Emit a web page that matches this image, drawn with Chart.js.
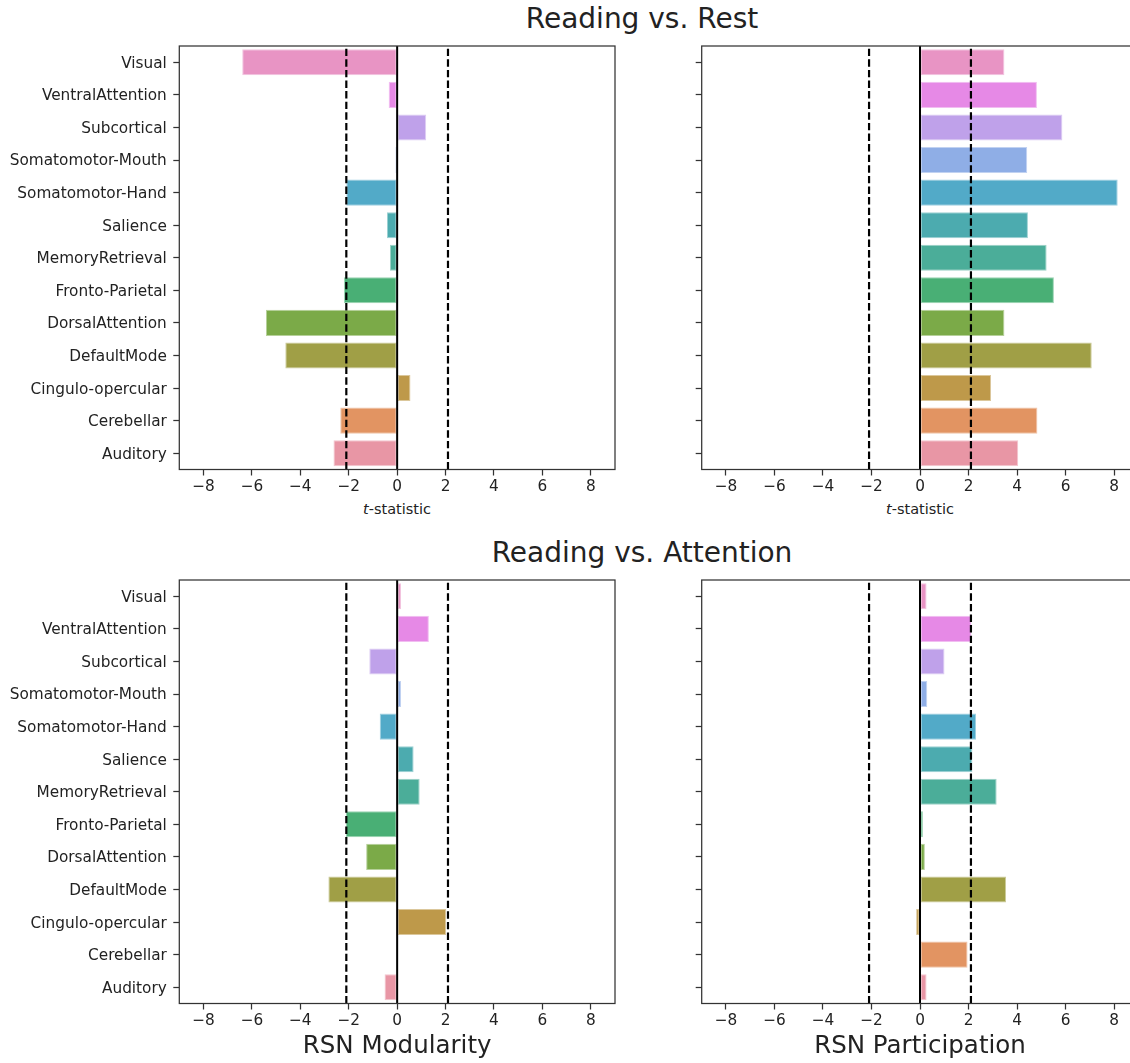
<!DOCTYPE html>
<html>
<head>
<meta charset="utf-8">
<script src="https://cdn.jsdelivr.net/npm/chart.js@4.4.1/dist/chart.umd.min.js"></script>
<style>
  html, body { margin: 0; padding: 0; width: 1130px; height: 1063px; overflow: hidden; background: #fff; }
  body { position: relative; font-family: "DejaVu Sans", sans-serif; color: #222; }
  canvas { position: absolute; }
  .sup { position: absolute; font-size: 28px; line-height: 28px; white-space: nowrap; transform: translateX(-50%); }
  .xl { position: absolute; font-size: 14.5px; line-height: 14.5px; white-space: nowrap; transform: translateX(-50%); }
</style>
</head>
<body>
<div class="sup" style="left:642px; top:4.7px;">Reading vs. Rest</div>
<div class="sup" style="left:642px; top:538.7px;">Reading vs. Attention</div>
<div class="xl" style="left:397px; top:502.2px;"><i>t</i>-statistic</div>
<div class="xl" style="left:920px; top:502.2px;"><i>t</i>-statistic</div>

<canvas id="restMod"></canvas>
<canvas id="restPart"></canvas>
<canvas id="attnMod"></canvas>
<canvas id="attnPart"></canvas>

<script>
// Resting-state networks, listed top to bottom
const categories = [
  'Visual', 'VentralAttention', 'Subcortical', 'Somatomotor-Mouth',
  'Somatomotor-Hand', 'Salience', 'MemoryRetrieval', 'Fronto-Parietal',
  'DorsalAttention', 'DefaultMode', 'Cingulo-opercular', 'Cerebellar', 'Auditory'
];

// t-statistics per network
const restModularity     = [-6.40, -0.35, 1.20, -0.07, -2.10, -0.42, -0.30, -2.20, -5.42, -4.62, 0.55, -2.35, -2.63];
const restParticipation  = [ 3.48,  4.82, 5.87,  4.42,  8.15,  4.45,  5.22,  5.52,  3.48,  7.08, 2.93,  4.84,  4.05];
const attnModularity     = [ 0.16,  1.31, -1.15, 0.16, -0.72,  0.68,  0.93, -2.12, -1.28, -2.84, 2.02,  0.00, -0.52];
const attnParticipation  = [ 0.27,  2.12, 1.01,  0.30,  2.31,  2.16,  3.16,  0.12,  0.20,  3.55, -0.16, 1.96,  0.27];

const xTicks = [-8, -6, -4, -2, 0, 2, 4, 6, 8];
const xRange = [-9, 9];
const critT = 2.1;

// One colour per network (same order as categories)
const barColors = [
  '#E894C4', '#E689E6', '#BFA1EA', '#8FAEE6', '#52AAC8', '#4CABAF', '#4BAD99',
  '#49AF75', '#7BAA48', '#A09F46', '#BE994A', '#E29462', '#E896A5'
];

function lighten(hex, f) {
  const n = parseInt(hex.slice(1), 16);
  const r = (n >> 16) & 255, g = (n >> 8) & 255, b = n & 255;
  const m = c => Math.round(c + (255 - c) * f);
  return `rgb(${m(r)},${m(g)},${m(b)})`;
}

const INK = '#222';
const SPINE = '#333';
const TICK_FONT = { family: 'DejaVu Sans', size: 15.3 };

// Threshold lines, zero line and the box around each axes
const refLines = {
  id: 'refLines',
  afterDatasetsDraw(chart) {
    const { ctx, chartArea: a, scales: { x } } = chart;
    ctx.save();
    ctx.beginPath();
    ctx.rect(a.left, a.top, a.right - a.left, a.bottom - a.top);
    ctx.clip();
    ctx.strokeStyle = '#000';
    ctx.lineWidth = 2.2;
    ctx.setLineDash([7.4, 3.2]);
    for (const v of [-critT, critT]) {
      const px = x.getPixelForValue(v);
      ctx.beginPath();
      ctx.moveTo(px, a.bottom);
      ctx.lineTo(px, a.top);
      ctx.stroke();
    }
    ctx.setLineDash([]);
    ctx.lineWidth = 2;
    const z = x.getPixelForValue(0);
    ctx.beginPath();
    ctx.moveTo(z, a.bottom);
    ctx.lineTo(z, a.top);
    ctx.stroke();
    ctx.restore();
  },
  afterDraw(chart) {
    const { ctx, chartArea: a } = chart;
    ctx.save();
    ctx.strokeStyle = SPINE;
    ctx.lineWidth = 1.25;
    ctx.strokeRect(a.left, a.top, a.right - a.left, a.bottom - a.top);
    ctx.restore();
  }
};

function makePanel(p) {
  const cv = document.getElementById(p.id);
  cv.style.left = p.left + 'px';
  cv.style.top = p.top + 'px';
  cv.width = p.width;
  cv.height = p.height;
  cv.style.width = p.width + 'px';
  cv.style.height = p.height + 'px';

  const yW = p.area.l - p.left;
  const xH = p.top + p.height - p.area.b;

  const xTitle = p.xTitle
    ? { display: true, text: p.xTitle, color: INK,
        font: { family: 'DejaVu Sans', size: 24.5 },
        padding: { top: 0, bottom: p.xTitlePad } }
    : { display: false };

  new Chart(cv, {
    type: 'bar',
    data: {
      labels: categories,
      datasets: [{
        data: p.values,
        backgroundColor: barColors,
        borderColor: barColors.map(c => lighten(c, 0.45)),
        borderWidth: 1,
        borderSkipped: false,
        barPercentage: 0.8,
        categoryPercentage: 1.0
      }]
    },
    options: {
      indexAxis: 'y',
      responsive: false,
      animation: false,
      devicePixelRatio: 1,
      layout: { padding: { left: 0, top: p.area.t - p.top, right: p.left + p.width - p.area.r, bottom: 0 } },
      plugins: { legend: { display: false }, tooltip: { enabled: false }, title: { display: false } },
      scales: {
        x: {
          type: 'linear',
          min: xRange[0],
          max: xRange[1],
          afterBuildTicks(s) { s.ticks = xTicks.map(v => ({ value: v })); },
          afterFit(s) { s.height = xH; },
          grid: { display: true, drawOnChartArea: false, drawTicks: true, tickLength: 6, tickColor: SPINE, tickWidth: 1.25 },
          border: { display: false },
          ticks: {
            color: INK, padding: 2.5, maxRotation: 0, autoSkip: false,
            font: TICK_FONT,
            callback: v => (v < 0 ? '\u2212' + Math.abs(v) : String(v))
          },
          title: xTitle
        },
        y: {
          type: 'category',
          offset: true,
          afterFit(s) { s.width = yW; },
          grid: { display: true, offset: false, drawOnChartArea: false, drawTicks: true, tickLength: 6, tickColor: SPINE, tickWidth: 1.25 },
          border: { display: false },
          ticks: {
            display: p.showLabels, color: INK, padding: 6.5, autoSkip: false, labelOffset: 1.5,
            font: TICK_FONT
          }
        }
      }
    },
    plugins: [refLines]
  });
}

makePanel({ id: 'restMod',  left: 0,   top: 30,  width: 640, height: 500,
  area: { l: 179.3, t: 46, r: 615, b: 469.5 }, values: restModularity, showLabels: true });
makePanel({ id: 'restPart', left: 640, top: 30,  width: 520, height: 500,
  area: { l: 701.7, t: 46, r: 1138.3, b: 469.5 }, values: restParticipation, showLabels: false });
makePanel({ id: 'attnMod',  left: 0,   top: 564, width: 640, height: 499,
  area: { l: 179.3, t: 580, r: 615, b: 1003.5 }, values: attnModularity, showLabels: true,
  xTitle: 'RSN Modularity', xTitlePad: 1.5 });
makePanel({ id: 'attnPart', left: 640, top: 564, width: 520, height: 499,
  area: { l: 701.7, t: 580, r: 1138.3, b: 1003.5 }, values: attnParticipation, showLabels: false,
  xTitle: 'RSN Participation', xTitlePad: 1.5 });
</script>
</body>
</html>
